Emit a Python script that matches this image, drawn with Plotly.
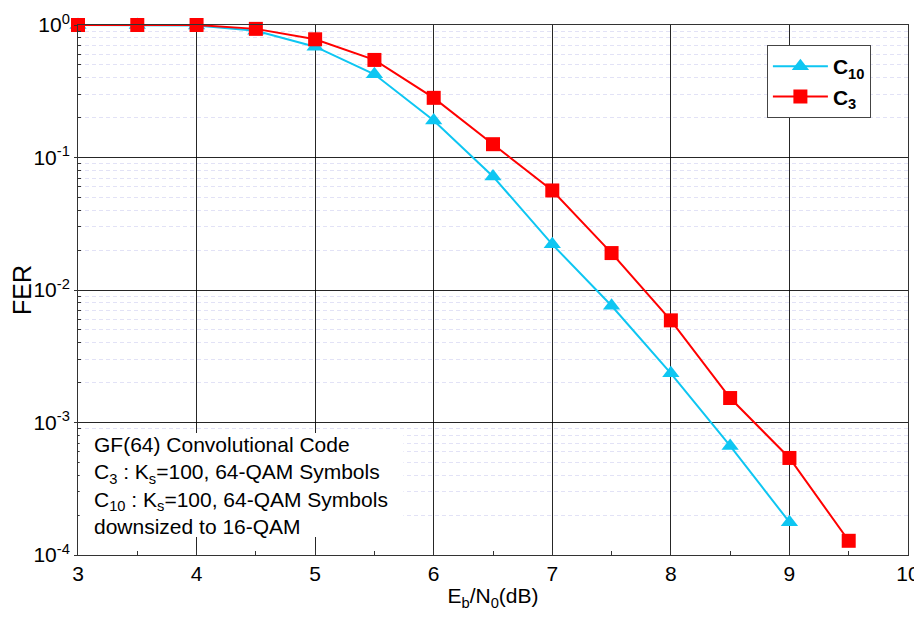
import plotly.graph_objects as go

# ---- data ----
ebn0 = [3, 3.5, 4, 4.5, 5, 5.5, 6, 6.5, 7, 7.5, 8, 8.5, 9, 9.5]
fer_c10 = [1.0, 1.0, 0.99, 0.905, 0.686, 0.425, 0.19, 0.072, 0.0221, 0.0076, 0.00235, 0.000665, 0.000177, None]
fer_c3 = [1.0, 1.0, 1.0, 0.935, 0.78, 0.545, 0.282, 0.126, 0.0564, 0.019, 0.0059, 0.00153, 0.00054, 0.000128]
series_names = ["<b>C<sub>10</sub></b>", "<b>C<sub>3</sub></b>"]
y_tickvals = [1e-4, 1e-3, 1e-2, 1e-1, 1]
y_ticktext = ["10<sup>-4</sup>", "10<sup>-3</sup>", "10<sup>-2</sup>", "10<sup>-1</sup>", "10<sup>0</sup>"]
note_lines = [
    "GF(64) Convolutional Code",
    "C<sub>3</sub> : K<sub>s</sub>=100, 64-QAM Symbols",
    "C<sub>10</sub> : K<sub>s</sub>=100, 64-QAM Symbols",
    "downsized to 16-QAM",
]

FONT = "Arial, Liberation Sans, sans-serif"
minor_vals = [k * 10.0 ** e for e in range(-4, 0) for k in range(2, 10)]

fig = go.Figure()
fig.add_trace(go.Scatter(
    x=ebn0, y=fer_c10, name=series_names[0], mode="lines+markers",
    line=dict(color="#0EC6F2", width=2),
    marker=dict(symbol="triangle-up", size=15, color="#0EC6F2"),
    cliponaxis=False,
))
fig.add_trace(go.Scatter(
    x=ebn0, y=fer_c3, name=series_names[1], mode="lines+markers",
    line=dict(color="#FF0000", width=2),
    marker=dict(symbol="square", size=14, color="#FF0000"),
    cliponaxis=False,
))

fig.update_layout(
    width=914, height=609,
    margin=dict(l=70, r=14, t=17, b=62),
    paper_bgcolor="white", plot_bgcolor="white",
    font=dict(family=FONT, color="black"),
    showlegend=True,
    legend=dict(
        x=0.830, y=0.962, xanchor="left", yanchor="top",
        bgcolor="white", bordercolor="#444", borderwidth=1,
        font=dict(size=21, family=FONT, color="black"),
        itemwidth=55, tracegroupgap=4,
    ),
    xaxis=dict(
        range=[3, 10], dtick=1, tick0=0, automargin=False,
        showgrid=True, gridcolor="rgba(0,0,0,0.85)", gridwidth=1,
        showline=True, linecolor="#333", linewidth=1, mirror=True,
        ticks="inside", ticklen=5, tickcolor="#333",
        minor=dict(dtick=0.5, ticks="inside", ticklen=4, tickcolor="#333", showgrid=False),
        tickfont=dict(size=21, family=FONT),
        title=dict(text="E<sub>b</sub>/N<sub>0</sub>(dB)", font=dict(size=21, family=FONT), standoff=4),
        zeroline=False,
    ),
    yaxis=dict(
        type="log", range=[-4, 0], automargin=False,
        tickmode="array", tickvals=y_tickvals, ticktext=y_ticktext,
        showgrid=True, gridcolor="rgba(0,0,0,0.85)", gridwidth=1,
        showline=True, linecolor="#333", linewidth=1, mirror=True,
        ticks="outside", ticklen=3, tickcolor="#333",
        minor=dict(tickmode="array", tickvals=minor_vals, ticks="inside", ticklen=3,
                   tickcolor="#333", showgrid=True, gridcolor="#E2E2F6",
                   griddash="4px,3px", gridwidth=1),
        tickfont=dict(size=21, family=FONT),
        title=dict(text="FER", font=dict(size=25, family=FONT), standoff=2),
        zeroline=False,
    ),
    shapes=[dict(
        type="rect", xref="paper", yref="paper", layer="above",
        x0=0.002, x1=0.392, y0=0.034, y1=0.230,
        fillcolor="white", line=dict(width=0),
    )],
    annotations=[dict(
        xref="paper", yref="paper", x=0.017, y=0.132,
        xanchor="left", yanchor="middle", align="left", showarrow=False,
        text="<br>".join(note_lines),
        font=dict(size=21, family=FONT, color="black"),
    )],
)

fig.write_html("out.html")
